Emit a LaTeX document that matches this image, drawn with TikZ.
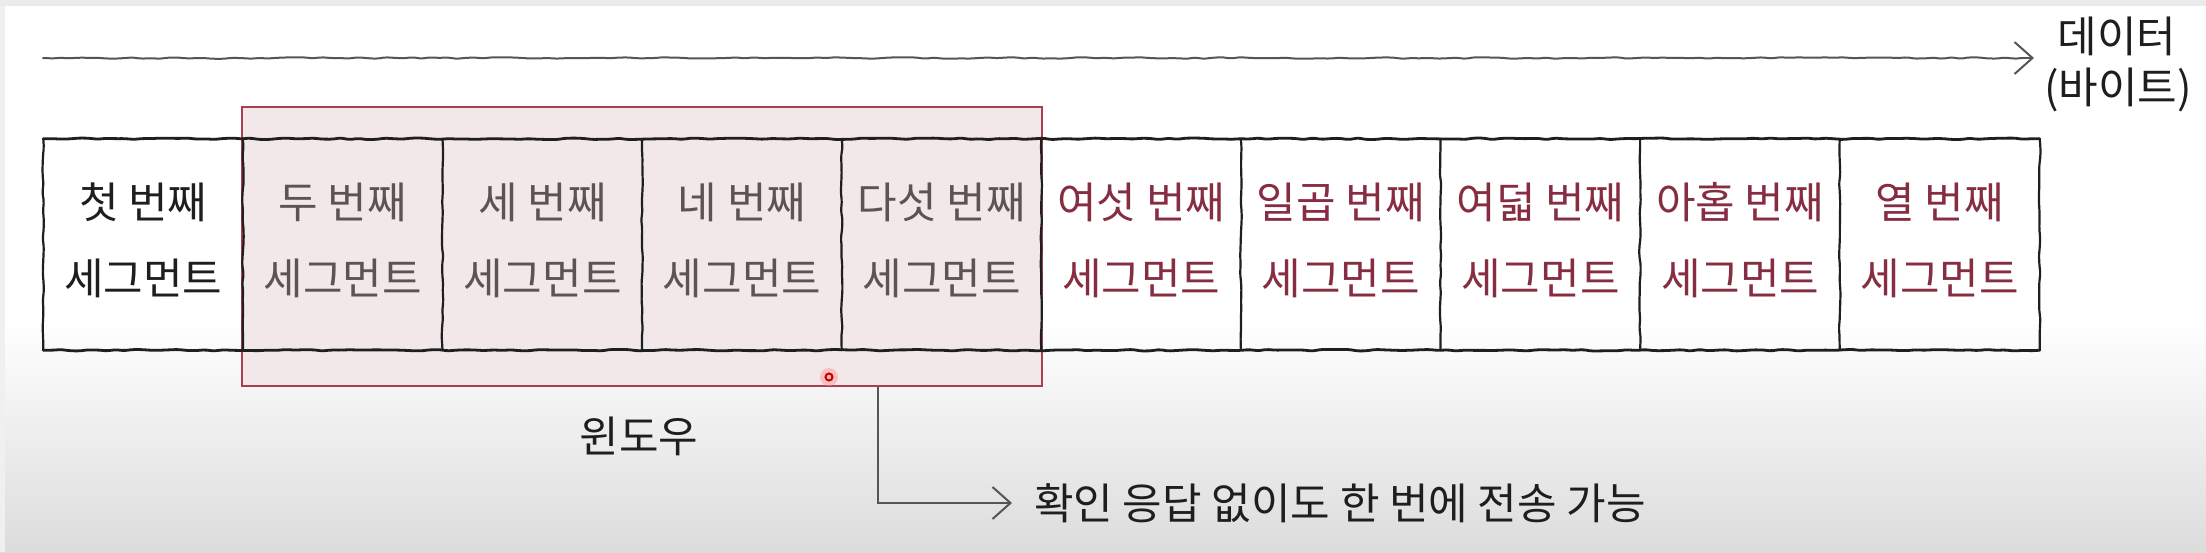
\documentclass[tikz,border=0pt]{standalone}
\usepackage{fontspec}
\newfontfamily\kr{Noto Sans CJK KR}
\usetikzlibrary{decorations.pathmorphing,arrows.meta,calc}
\definecolor{txtblack}{RGB}{30,30,30}
\definecolor{txtgray}{RGB}{90,84,84}
\definecolor{txtred}{RGB}{135,45,65}
\definecolor{winfill}{RGB}{242,232,234}
\definecolor{winline}{RGB}{168,64,80}
\definecolor{lnk}{RGB}{85,85,85}
\definecolor{bgbottom}{RGB}{220,220,220}
\begin{document}
\begin{tikzpicture}[x=1pt,y=-1pt,
  lbl/.style={font=\kr\fontsize{43}{48}\selectfont, inner sep=0pt},
  cell/.style={minimum width=199.6pt, minimum height=211pt, inner sep=0pt},
  wob/.style={decorate, decoration={random steps, segment length=9pt, amplitude=0.8pt}, rounded corners=2pt},
  hline/.style={wob, line width=2.8pt, draw=black!88, line cap=round},
  vline/.style={wob, line width=2.2pt, draw=black!88, line cap=round},
  dataline/.style={wob, line width=2pt, draw=lnk, line cap=round},
  conn/.style={line width=2pt, draw=lnk},
  tip/.style={-{Straight Barb[length=18pt,width=32pt,line width=2pt]}},
  winbox/.style={draw=winline, fill=winfill, line width=2pt, inner sep=0pt}
]
\pgfmathsetseed{7}
\useasboundingbox (0,0) rectangle (2206,552);
\fill[white] (0,0) rectangle (2206,552);
\shade[top color=white, bottom color=bgbottom] (0,320) rectangle (2206,552);
\fill[black!8] (0,0) rectangle (2206,6);
\fill[black!6] (0,6) rectangle (5,552);

% window
\node[winbox, minimum width=800pt, minimum height=279pt] (win) at (642,246.5) {};

% cells
\foreach \i in {1,...,10}
  \node[cell] (c\i) at ({43.5+199.6*(\i-0.5)},244.5) {};

\draw[hline] (c1.north west) -- (c10.north east);
\draw[hline] (c1.south west) -- (c10.south east);
\foreach \i in {1,...,10}
  \draw[vline] (c\i.north west) -- (c\i.south west);
\draw[vline] (c10.north east) -- (c10.south east);

% cell texts
\foreach \i/\t/\c in {1/첫 번째/txtblack, 2/두 번째/txtgray, 3/세 번째/txtgray, 4/네 번째/txtgray, 5/다섯 번째/txtgray,
  6/여섯 번째/txtred, 7/일곱 번째/txtred, 8/여덟 번째/txtred, 9/아홉 번째/txtred, 10/열 번째/txtred}{
  \node[lbl, text=\c] (a\i) at ($(c\i.center)+(0,-42.5)$) {\t};
  \node[lbl, text=\c] (b\i) at ($(c\i.center)+(0,33.5)$) {세그먼트};
}

% data arrow
\coordinate (dstart) at (43,58);
\coordinate (dend) at (2034,58);
\draw[dataline] (dstart) -- ($(dend)+(-12,0)$);
\draw[conn, tip] ($(dend)+(-14,0)$) -- (dend);
\node[lbl, text=txtblack] (data1) at (2117,36) {데이터};
\node[lbl, text=txtblack] (data2) at (2118,90) {(바이트)};

% window label
\node[lbl, text=txtblack] (winlbl) at (639,436) {윈도우};

% connector
\coordinate (cstart) at ($(win.south west)!0.7946!(win.south east)$);
\node[lbl, text=txtblack, anchor=west, inner xsep=22pt] (note) at (1012,503) {확인 응답 없이도 한 번에 전송 가능};
\draw[conn, tip] (cstart) |- (note.west);

% pointer dot
\fill[red!40, opacity=0.5] (829,377) circle (9pt);
\draw[red!80!black, line width=2pt] (829,377) circle (3.5pt);
\end{tikzpicture}
\end{document}
